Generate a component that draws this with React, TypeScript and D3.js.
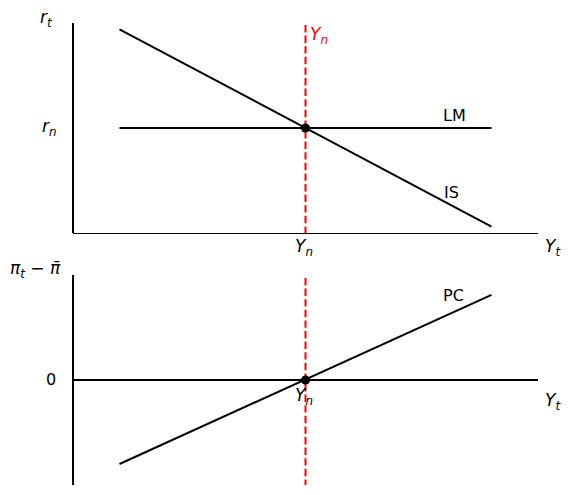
import React from 'react';
import * as d3 from 'd3';

// curve data (x in output units, y in rate / inflation-gap units)
const isCurve = [
  { x: 1, y: 9.7 },
  { x: 9, y: 0.3 },
];
const lmCurve = [
  { x: 1, y: 5 },
  { x: 9, y: 5 },
];
const pcCurve = [
  { x: 1, y: -4 },
  { x: 9, y: 4.05 },
];
const yNatural = 5;
const rNatural = 5;
const gapZero = 0;

const W = 573;
const H = 495;
const font = 'DejaVu Sans, sans-serif';

type Pt = { x: number; y: number };

const App: React.FC = () => {
  const x = d3.scaleLinear().domain([0, 10]).range([73, 538]);
  const yTop = d3.scaleLinear().domain([0, 10]).range([233, 23]);
  const yBot = d3.scaleLinear().domain([-5, 5]).range([485, 275]);

  const lineTop = d3.line<Pt>().x(d => x(d.x)).y(d => yTop(d.y));
  const lineBot = d3.line<Pt>().x(d => x(d.x)).y(d => yBot(d.y));

  const sub = (main: string, s: string, px: number, py: number, size: number, color = '#000') => (
    <text x={px} y={py} fontFamily={font} fontSize={size} fill={color} fontStyle="italic">
      {main}
      <tspan fontSize={size * 0.7} dy={size * 0.22}>{s}</tspan>
    </text>
  );

  return (
    <svg width={W} height={H} style={{ position: 'absolute', left: 0, top: 0, background: '#fff' }}>
      <rect width={W} height={H} fill="#fff" />

      {/* ---- IS-LM panel ---- */}
      <line x1={x(0)} x2={x(0)} y1={yTop(10)} y2={yTop(0)} stroke="#000" strokeWidth={2} />
      <line x1={x(0)} x2={x(10)} y1={yTop(0) + 0.5} y2={yTop(0) + 0.5} stroke="#000" strokeWidth={1.2} />

      <line x1={x(yNatural)} x2={x(yNatural)} y1={yTop(10) + 2} y2={yTop(0)}
        stroke="red" strokeWidth={2} strokeDasharray="7.4,3.2" />

      <path d={lineTop(isCurve)!} fill="none" stroke="#000" strokeWidth={2} />
      <path d={lineTop(lmCurve)!} fill="none" stroke="#000" strokeWidth={2} />
      <circle cx={x(yNatural)} cy={yTop(rNatural)} r={4.5} fill="#000" />

      {sub('r', 't', 40, 23, 17)}
      {sub('r', 'n', 42, 132, 17)}
      {sub('Y', 'n', 310, 40, 17, 'red')}
      {sub('Y', 'n', 295, 252, 17)}
      {sub('Y', 't', 545, 252, 17)}
      <text x={443} y={121} fontFamily={font} fontSize={16}>LM</text>
      <text x={444} y={198} fontFamily={font} fontSize={16}>IS</text>

      {/* ---- Phillips curve panel ---- */}
      <line x1={x(0)} x2={x(0)} y1={yBot(5)} y2={yBot(-5)} stroke="#000" strokeWidth={2} />
      <line x1={x(0)} x2={x(10)} y1={yBot(gapZero)} y2={yBot(gapZero)} stroke="#000" strokeWidth={2.2} />

      <line x1={x(yNatural)} x2={x(yNatural)} y1={yBot(5) + 3} y2={yBot(-5)}
        stroke="red" strokeWidth={2} strokeDasharray="7.4,3.2" />

      <path d={lineBot(pcCurve)!} fill="none" stroke="#000" strokeWidth={2} />
      <circle cx={x(yNatural)} cy={yBot(gapZero)} r={4.5} fill="#000" />

      <text x={10} y={274} fontFamily={font} fontSize={17} fontStyle="italic">
        π<tspan fontSize={11.9} dy={3.7}>t</tspan>
        <tspan dy={-3.7} fontStyle="normal"> − </tspan>π̄
      </text>
      <text x={46} y={385} fontFamily={font} fontSize={16}>0</text>
      {sub('Y', 'n', 295, 401, 17)}
      {sub('Y', 't', 545, 406, 17)}
      <text x={443} y={301} fontFamily={font} fontSize={16}>PC</text>
    </svg>
  );
};

export default App;
